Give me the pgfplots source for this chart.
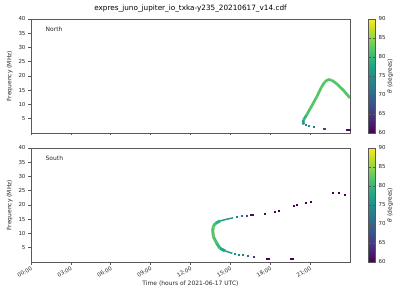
\documentclass[border=0pt]{standalone}
\usepackage{fontspec}
\setmainfont{DejaVu Sans}
\setsansfont{DejaVu Sans}
\usepackage{pgfplots}
\pgfplotsset{compat=1.18}
\begin{document}
\begin{tikzpicture}
\path[use as bounding box] (0,0) rectangle (400bp,300bp);
\pgfplotsset{
 myax/.style={
  scale only axis, width=319bp, height=114bp, anchor=south west,
  xmin=0, xmax=24, ymin=0, ymax=40,
  xtick={0,3,...,21}, ytick={5,10,...,40},
  tick align=outside, tick pos=left,
  major tick length=2.5bp,
  axis line style={black!65, line width=0.6bp},
  every tick/.style={black!65, line width=0.6bp},
  ticklabel style={font=\fontsize{5.5}{6}\selectfont, text=black!85},
  /pgf/number format/assume math mode=true,
  yticklabel style={xshift=0.5bp},
  colormap/viridis, point meta min=60, point meta max=90,
  ylabel={Frequency (MHz)},
  ylabel style={font=\fontsize{6}{7}\selectfont, text=black!85, at={(ticklabel cs:0.5)}, yshift=-1bp},
  colorbar,
  colorbar style={
    width=7bp, at={(parent axis.north east)}, anchor=north west, xshift=10bp,
    ytick={60,65,...,90},
    axis line style={black!65, line width=0.6bp},
    every tick/.style={black!65, line width=0.6bp},
    major tick length=2.5bp,
    ticklabel style={font=\fontsize{5.5}{6}\selectfont, text=black!85},
    yticklabel style={xshift=-0.5bp},
    /pgf/number format/assume math mode=true,
    ylabel={\textit{θ} (degrees)},
    ylabel style={font=\fontsize{6}{7}\selectfont, text=black!85, yshift=5bp},
  },
 }
}
% ---------------- North ----------------
\begin{axis}[myax, at={(31bp,167bp)}, xticklabels={},
  title={expres\_juno\_jupiter\_io\_txka-y235\_20210617\_v14.cdf},
  title style={font=\fontsize{7.3}{8}\selectfont, yshift=-3bp}]
\node[anchor=west, font=\fontsize{6}{7}\selectfont, text=black!85] at (axis description cs:0.035,0.91) {North};
\addplot[mesh, point meta=explicit, line width=2.7bp] coordinates {
 (20.53,3.0) [74] (20.47,3.8) [76] (20.5,4.6) [79] (20.75,6.4) [81]
 (21.0,8.5) [82] (21.5,12.7) [82] (21.85,16.1) [82] (22.1,17.9) [82]
 (22.35,18.75) [82] (22.6,18.6) [82] (23.0,17.3) [82] (23.5,15.0) [82] (24.0,12.3) [82]
};
\addplot[scatter, only marks, mark=square*, mark size=0.5bp, point meta=explicit,
  scatter/use mapped color={draw=mapped color, fill=mapped color}] coordinates {
 (20.65,2.9) [74] (20.9,2.6) [74] (21.25,2.2) [72] (22.0,1.6) [66] (22.1,1.6) [66]
 (23.75,1.3) [61] (23.85,1.3) [61] (23.95,1.3) [61]
};
\end{axis}
% ---------------- South ----------------
\begin{axis}[myax, at={(31bp,38bp)},
  xticklabels={00:00,03:00,06:00,09:00,12:00,15:00,18:00,21:00},
  xticklabel style={rotate=30, anchor=north east, inner sep=1bp},
  xlabel={Time (hours of 2021-06-17 UTC)},
  xlabel style={font=\fontsize{6}{7}\selectfont, text=black!85, yshift=2bp}]
\node[anchor=west, font=\fontsize{6}{7}\selectfont, text=black!85] at (axis description cs:0.035,0.91) {South};
\addplot[mesh, point meta=explicit, line width=3bp] coordinates {
 (14.22,14.4) [78] (13.86,13.5) [81] (13.72,12.5) [82] (13.67,11.2) [82]
 (13.72,8.9) [82] (13.97,6.6) [81] (14.22,4.8) [79] (14.6,3.9) [77]
};
\addplot[mesh, point meta=explicit, line width=1.5bp] coordinates {
 (14.22,14.4) [78] (14.72,15.0) [76] (15.2,15.5) [75]
};
\addplot[mesh, point meta=explicit, line width=1.5bp] coordinates {
 (14.6,3.9) [77] (14.97,3.3) [76] (15.15,3.05) [75]
};
\addplot[scatter, only marks, mark=square*, mark size=0.5bp, point meta=explicit,
  scatter/use mapped color={draw=mapped color, fill=mapped color}] coordinates {
 (15.5,15.8) [73] (15.85,16.2) [70] (16.2,16.4) [67] (16.5,16.6) [61] (16.6,16.6) [61] (16.7,16.6) [61]
 (17.55,17.0) [61] (18.3,17.6) [60] (18.6,18.0) [60] (19.74,19.7) [60] (19.99,20.1) [60]
 (20.64,20.8) [60] (21.04,21.1) [60] (22.67,24.2) [60] (23.12,24.2) [60] (23.57,23.5) [60]
 (15.35,2.9) [75] (15.6,2.6) [74] (15.9,2.4) [73] (16.3,2.1) [70] (16.75,1.7) [65]
 (17.75,1.3) [60] (17.9,1.3) [60] (19.55,1.1) [60] (19.7,1.1) [60]
};
\end{axis}
\end{tikzpicture}
\end{document}
